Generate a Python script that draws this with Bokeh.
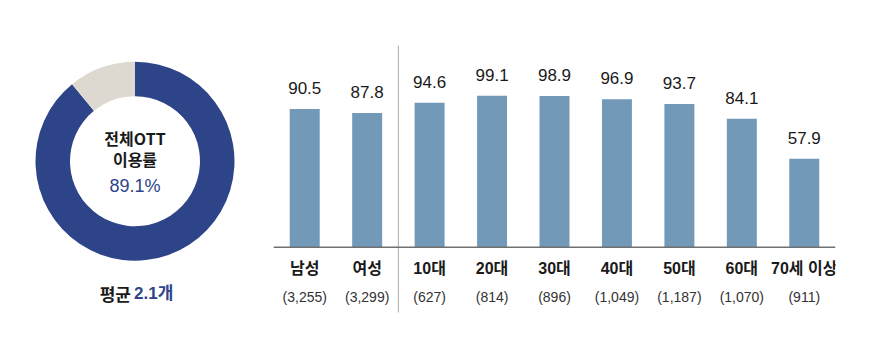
import math
from bokeh.plotting import figure
from bokeh.layouts import row
from bokeh.models import ColumnDataSource, Range1d, FactorRange, Span
from bokeh.core.properties import value
from bokeh.embed import file_html
from bokeh.resources import INLINE

# ---- data ----
categories = ["남성", "여성", "10대", "20대", "30대", "40대", "50대", "60대", "70세 이상"]
usage_rates = [90.5, 87.8, 94.6, 99.1, 98.9, 96.9, 93.7, 84.1, 57.9]
sample_sizes = ["(3,255)", "(3,299)", "(627)", "(814)", "(896)", "(1,049)", "(1,187)", "(1,070)", "(911)"]
donut_labels = ["이용", "미이용"]
donut_shares = [89.1, 10.9]
donut_title = ["전체OTT", "이용률"]
total_rate_text = "89.1%"
avg_label = "평균"
avg_value_text = "2.1개"

BLUE = "#2E4489"
GRAY = "#DED9D0"
BAR = "#7399B9"
TXT = "#1A1A1A"
NUM_FONT = value("Liberation Sans, Noto Sans CJK KR")
KR_FONT = value("Noto Sans CJK KR")

# ---- donut figure ----
dw, dh = 270, 345
d = figure(width=dw, height=dh, x_range=Range1d(0, dw), y_range=Range1d(0, dh),
           output_backend="svg", toolbar_location=None,
           x_axis_location=None, y_axis_location=None,
           min_border=0, outline_line_color=None)
d.grid.visible = False

total = sum(donut_shares)
starts, ends = [], []
acc = 0.0
for s in donut_shares:
    starts.append(math.pi / 2 - 2 * math.pi * acc / total)
    acc += s
    ends.append(math.pi / 2 - 2 * math.pi * acc / total)
cx, cy = 134.5, dh - 160.7
dsrc = ColumnDataSource(dict(x=[cx] * len(donut_shares), y=[cy] * len(donut_shares),
                             start=starts, end=ends, color=[BLUE, GRAY], label=donut_labels))
d.annular_wedge(x="x", y="y", inner_radius=65, outer_radius=99.5,
                inner_radius_units="screen", outer_radius_units="screen",
                start_angle="start", end_angle="end", direction="clock",
                fill_color="color", line_color=None, source=dsrc)

d.text(x=[cx, cx], y=[dh - 137, dh - 158], text=donut_title,
       text_font=KR_FONT, text_font_size="16px", text_font_style="bold",
       text_color=TXT, text_align="center", text_baseline="middle")
d.text(x=[cx], y=[dh - 185], text=[total_rate_text],
       text_font=NUM_FONT, text_font_size="18px",
       text_color=BLUE, text_align="center", text_baseline="middle")
d.text(x=[130.5], y=[dh - 293], text=[avg_label],
       text_font=KR_FONT, text_font_size="17px", text_font_style="bold",
       text_color=TXT, text_align="right", text_baseline="middle")
d.text(x=[133.5], y=[dh - 293], text=[avg_value_text],
       text_font=NUM_FONT, text_font_size="17px", text_font_style="bold",
       text_color=BLUE, text_align="left", text_baseline="middle")

# ---- bar figure ----
bw = 870 - dw
px_per_unit = 1.528
base_from_bottom = 345 - 246.7
ymin = -base_from_bottom / px_per_unit
ymax = 246.7 / px_per_unit

b = figure(width=bw, height=345, x_range=FactorRange(*categories, range_padding=0),
           y_range=Range1d(ymin, ymax),
           output_backend="svg", toolbar_location=None,
           x_axis_location=None, y_axis_location=None,
           min_border_left=3, min_border_right=35, min_border_top=0, min_border_bottom=0,
           outline_line_color=None)
b.grid.visible = False

src = ColumnDataSource(dict(cat=categories, val=usage_rates, n=sample_sizes,
                            lab=[f"{v:.1f}" for v in usage_rates], zero=[0] * len(categories)))
b.vbar(x="cat", top="val", bottom=0, width=0.48, fill_color=BAR, line_color=None, source=src)

b.add_layout(Span(location=0, dimension="width", line_color="#707070", line_width=1.5))

# separator between gender and age groups
b.segment(x0=[2.0], x1=[2.0], y0=[-(312 - 246.7) / px_per_unit], y1=[(246.7 - 45) / px_per_unit],
          line_color="#AAAAAA", line_width=1)

b.text(x="cat", y="val", text="lab", source=src, y_offset=-21,
       text_font=NUM_FONT, text_font_size="17px", text_color=TXT,
       text_align="center", text_baseline="middle")
b.text(x="cat", y="zero", text="cat", source=src, y_offset=21,
       text_font=NUM_FONT, text_font_size="16px", text_font_style="bold", text_color=TXT,
       text_align="center", text_baseline="middle")
b.text(x="cat", y="zero", text="n", source=src, y_offset=50,
       text_font=NUM_FONT, text_font_size="14px", text_color="#333333",
       text_align="center", text_baseline="middle")

layout = row(d, b)
open("out.html", "w").write(file_html(layout, INLINE))
